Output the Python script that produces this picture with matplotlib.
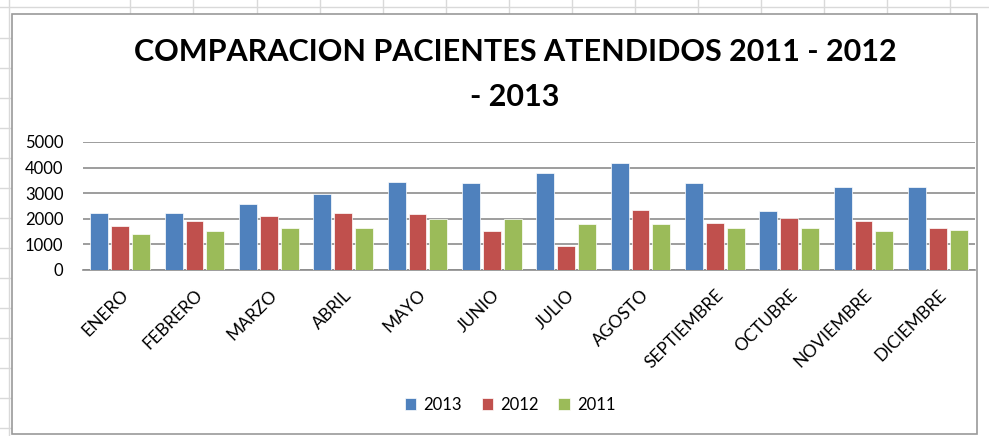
import matplotlib.pyplot as plt
import numpy as np
from matplotlib.patches import Rectangle

months = ['ENERO', 'FEBRERO', 'MARZO', 'ABRIL', 'MAYO', 'JUNIO', 'JULIO',
          'AGOSTO', 'SEPTIEMBRE', 'OCTUBRE', 'NOVIEMBRE', 'DICIEMBRE']
y2013 = [2230, 2230, 2560, 2950, 3450, 3390, 3780, 4170, 3390, 2300, 3260, 3260]
y2012 = [1710, 1910, 2100, 2230, 2170, 1520, 940, 2360, 1840, 2040, 1910, 1650]
y2011 = [1390, 1520, 1650, 1650, 2000, 2000, 1780, 1780, 1650, 1650, 1520, 1580]
series_names = ['2013', '2012', '2011']
colors = ['#4F81BD', '#C0504D', '#9BBB59']

plt.rcParams['font.family'] = ['Lato', 'DejaVu Sans']

fig = plt.figure(figsize=(9.89, 4.36), dpi=100)

# spreadsheet cell lines behind the chart
for xv in [130, 193, 257, 320, 383, 446, 509, 572, 635, 698, 761, 824, 887, 950]:
    fig.add_artist(plt.Line2D([xv / 989, xv / 989], [1 - 0 / 436, 1 - 14 / 436],
                              color='#d9d9d9', lw=1, zorder=-3))
fig.add_artist(plt.Line2D([0, 1], [1 - 7 / 436, 1 - 7 / 436], color='#d9d9d9',
                          lw=1, zorder=-3))
fig.add_artist(plt.Line2D([9 / 989, 9 / 989], [0, 1], color='#d9d9d9', lw=1,
                          zorder=-3))
for yv in range(38, 436, 30):
    fig.add_artist(plt.Line2D([0, 12 / 989], [1 - yv / 436, 1 - yv / 436],
                              color='#d9d9d9', lw=1, zorder=-3))

# chart border
fig.add_artist(Rectangle((12 / 989, 0.004), (977 - 12) / 989, 1 - 14 / 436 - 0.004,
                         facecolor='white', edgecolor='#9a9a9a', lw=1.2, zorder=-2))

ax = fig.add_axes([83 / 989, 1 - 270 / 436, (975 - 83) / 989, (270 - 142) / 436])
ax.set_facecolor('none')

x = np.arange(len(months))
w = 0.24
for i, (vals, name) in enumerate(zip([y2013, y2012, y2011], series_names)):
    ax.bar(x + (i - 1) * 0.28, vals, w, color=colors[i], label=name,
           edgecolor='white', linewidth=0.5, zorder=3)

ax.set_xlim(-0.5, len(months) - 0.5)
ax.set_ylim(0, 5000)
ax.set_yticks(range(0, 5001, 1000))
ax.yaxis.grid(True, color='#8c8c8c', lw=1.2, zorder=0)
for s in ['left', 'right', 'top']:
    ax.spines[s].set_visible(False)
ax.spines['bottom'].set_color('#8c8c8c')
ax.spines['bottom'].set_linewidth(1.2)
ax.tick_params(axis='y', length=0, labelsize=12, pad=14)
ax.tick_params(axis='x', length=0, labelsize=12.5, pad=12)
ax.set_xticks(x)
ax.set_xticklabels(months, rotation=45, ha='right', rotation_mode='anchor')

fig.text(515 / 989, 1 - 52 / 436, 'COMPARACION PACIENTES ATENDIDOS 2011 - 2012',
         ha='center', va='center', fontsize=22, fontweight='bold')
fig.text(515 / 989, 1 - 97 / 436, '- 2013', ha='center', va='center',
         fontsize=22, fontweight='bold')

fig.legend(loc='center', bbox_to_anchor=(510 / 989, 1 - 405 / 436), ncol=3,
           frameon=False, fontsize=12, handlelength=0.7, handleheight=0.7,
           handletextpad=0.4, columnspacing=1.2)

fig.savefig('out.png', dpi=100)
